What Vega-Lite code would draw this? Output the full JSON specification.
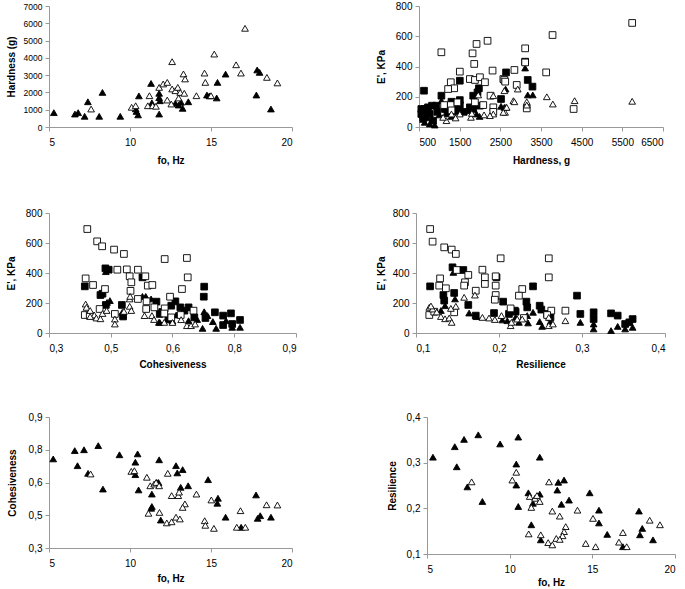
{
"$schema":"https://vega.github.io/schema/vega-lite/v6.json",
"background":"white",
"padding":{"left":6,"top":1,"right":0,"bottom":0},
"datasets":{
"p1":[
{"x":5.3,"y":830,"m":"ft"},{"x":6.6,"y":750,"m":"ft"},{"x":6.8,"y":830,"m":"ft"},{"x":7.2,"y":620,"m":"ft"},{"x":7.4,"y":1460,"m":"ft"},{"x":8.1,"y":620,"m":"ft"},{"x":8.3,"y":2000,"m":"ft"},{"x":9.4,"y":620,"m":"ft"},{"x":10.35,"y":1050,"m":"ft"},{"x":10.4,"y":900,"m":"ft"},{"x":10.5,"y":700,"m":"ft"},{"x":10.55,"y":1800,"m":"ft"},{"x":11.3,"y":2520,"m":"ft"},{"x":11.35,"y":1400,"m":"ft"},{"x":11.8,"y":750,"m":"ft"},{"x":11.8,"y":1950,"m":"ft"},{"x":11.85,"y":1520,"m":"ft"},{"x":11.8,"y":1700,"m":"ft"},{"x":12.8,"y":1370,"m":"ft"},{"x":13.0,"y":1270,"m":"ft"},{"x":13.15,"y":1430,"m":"ft"},{"x":13.25,"y":1080,"m":"ft"},{"x":13.6,"y":1460,"m":"ft"},{"x":14.75,"y":1850,"m":"ft"},{"x":14.9,"y":1800,"m":"ft"},{"x":15.35,"y":1680,"m":"ft"},{"x":15.4,"y":2580,"m":"ft"},{"x":15.9,"y":3060,"m":"ft"},{"x":17.85,"y":3300,"m":"ft"},{"x":18.0,"y":3160,"m":"ft"},{"x":17.8,"y":1850,"m":"ft"},{"x":18.7,"y":1040,"m":"ft"},
{"x":7.6,"y":1040,"m":"ot"},{"x":10.1,"y":1140,"m":"ot"},{"x":10.35,"y":1230,"m":"ot"},{"x":11.1,"y":1230,"m":"ot"},{"x":11.2,"y":1810,"m":"ot"},{"x":11.4,"y":1230,"m":"ot"},{"x":11.6,"y":1200,"m":"ot"},{"x":11.8,"y":2290,"m":"ot"},{"x":12.05,"y":2490,"m":"ot"},{"x":12.3,"y":2580,"m":"ot"},{"x":12.3,"y":1560,"m":"ot"},{"x":12.55,"y":1330,"m":"ot"},{"x":12.6,"y":3780,"m":"ot"},{"x":12.6,"y":2200,"m":"ot"},{"x":12.8,"y":2100,"m":"ot"},{"x":12.95,"y":2290,"m":"ot"},{"x":13.0,"y":1680,"m":"ot"},{"x":13.1,"y":2000,"m":"ot"},{"x":13.3,"y":3070,"m":"ot"},{"x":13.35,"y":1950,"m":"ot"},{"x":13.4,"y":2780,"m":"ot"},{"x":14.1,"y":1810,"m":"ot"},{"x":14.6,"y":3120,"m":"ot"},{"x":14.65,"y":2580,"m":"ot"},{"x":15.0,"y":1810,"m":"ot"},{"x":15.2,"y":4220,"m":"ot"},{"x":16.55,"y":3600,"m":"ot"},{"x":16.85,"y":3120,"m":"ot"},{"x":17.1,"y":5710,"m":"ot"},{"x":18.45,"y":2870,"m":"ot"},{"x":19.1,"y":2550,"m":"ot"}
],
"p2":[
{"x":623,"y":240,"m":"fs"},{"x":1051,"y":207,"m":"fs"},{"x":1504,"y":306,"m":"fs"},{"x":2640,"y":361,"m":"fs"},{"x":1973,"y":256,"m":"fs"},{"x":1939,"y":229,"m":"fs"},{"x":1833,"y":207,"m":"fs"},{"x":3174,"y":311,"m":"fs"},{"x":3110,"y":432,"m":"fs"},{"x":2517,"y":185,"m":"fs"},{"x":1298,"y":167,"m":"fs"},{"x":1504,"y":178,"m":"fs"},{"x":1504,"y":145,"m":"fs"},{"x":1998,"y":141,"m":"fs"},{"x":557,"y":119,"m":"fs"},{"x":640,"y":119,"m":"fs"},{"x":722,"y":130,"m":"fs"},{"x":821,"y":141,"m":"fs"},{"x":927,"y":141,"m":"fs"},{"x":557,"y":86,"m":"fs"},{"x":640,"y":75,"m":"fs"},{"x":764,"y":86,"m":"fs"},{"x":846,"y":42,"m":"fs"},{"x":1134,"y":119,"m":"fs"},{"x":1463,"y":119,"m":"fs"},{"x":1751,"y":130,"m":"fs"},{"x":1833,"y":119,"m":"fs"},{"x":3290,"y":267,"m":"fs"},{"x":600,"y":60,"m":"fs"},{"x":700,"y":100,"m":"fs"},{"x":950,"y":100,"m":"fs"},{"x":1200,"y":90,"m":"fs"},{"x":1600,"y":100,"m":"fs"},
{"x":1051,"y":174,"m":"ft"},{"x":764,"y":20,"m":"ft"},{"x":640,"y":31,"m":"ft"},{"x":887,"y":13,"m":"ft"},{"x":1463,"y":108,"m":"ft"},{"x":1710,"y":108,"m":"ft"},{"x":1915,"y":86,"m":"ft"},{"x":2630,"y":251,"m":"ft"},{"x":2599,"y":130,"m":"ft"},{"x":3110,"y":390,"m":"ft"},{"x":3174,"y":212,"m":"ft"},{"x":3298,"y":212,"m":"ft"},{"x":2517,"y":137,"m":"ft"},{"x":600,"y":50,"m":"ft"},{"x":700,"y":60,"m":"ft"},{"x":1000,"y":80,"m":"ft"},{"x":1300,"y":70,"m":"ft"},{"x":1990,"y":70,"m":"ft"},{"x":1400,"y":100,"m":"ft"},{"x":1250,"y":110,"m":"ft"},
{"x":1050,"y":494,"m":"os"},{"x":1915,"y":549,"m":"os"},{"x":2186,"y":570,"m":"os"},{"x":1817,"y":487,"m":"os"},{"x":1858,"y":417,"m":"os"},{"x":1504,"y":366,"m":"os"},{"x":2309,"y":373,"m":"os"},{"x":2846,"y":377,"m":"os"},{"x":3110,"y":520,"m":"os"},{"x":1751,"y":317,"m":"os"},{"x":1875,"y":311,"m":"os"},{"x":1998,"y":329,"m":"os"},{"x":2122,"y":296,"m":"os"},{"x":1282,"y":296,"m":"os"},{"x":1364,"y":256,"m":"os"},{"x":1216,"y":251,"m":"os"},{"x":2259,"y":207,"m":"os"},{"x":2574,"y":317,"m":"os"},{"x":2903,"y":278,"m":"os"},{"x":1117,"y":145,"m":"os"},{"x":1282,"y":145,"m":"os"},{"x":1445,"y":163,"m":"os"},{"x":1875,"y":163,"m":"os"},{"x":2080,"y":145,"m":"os"},{"x":2327,"y":130,"m":"os"},{"x":2327,"y":100,"m":"os"},{"x":5742,"y":688,"m":"os"},{"x":3784,"y":608,"m":"os"},{"x":3110,"y":427,"m":"os"},{"x":3627,"y":361,"m":"os"},{"x":2599,"y":311,"m":"os"},{"x":3150,"y":123,"m":"os"},{"x":4302,"y":119,"m":"os"},{"x":1300,"y":110,"m":"os"},{"x":2620,"y":300,"m":"os"},
{"x":2928,"y":251,"m":"ot"},{"x":2821,"y":174,"m":"ot"},{"x":2640,"y":130,"m":"ot"},{"x":2616,"y":97,"m":"ot"},{"x":2327,"y":207,"m":"ot"},{"x":2327,"y":86,"m":"ot"},{"x":2245,"y":75,"m":"ot"},{"x":1957,"y":212,"m":"ot"},{"x":1777,"y":64,"m":"ot"},{"x":1504,"y":86,"m":"ot"},{"x":1175,"y":42,"m":"ot"},{"x":1093,"y":64,"m":"ot"},{"x":1298,"y":86,"m":"ot"},{"x":2599,"y":240,"m":"ot"},{"x":2846,"y":167,"m":"ot"},{"x":3150,"y":167,"m":"ot"},{"x":3150,"y":145,"m":"ot"},{"x":3643,"y":200,"m":"ot"},{"x":3791,"y":152,"m":"ot"},{"x":4327,"y":174,"m":"ot"},{"x":5742,"y":170,"m":"ot"},{"x":2656,"y":130,"m":"ot"},{"x":2574,"y":97,"m":"ot"},{"x":1800,"y":90,"m":"ot"},{"x":2100,"y":80,"m":"ot"},{"x":1400,"y":60,"m":"ot"}
],
"p3":[
{"x":0.387,"y":311,"m":"fs"},{"x":0.437,"y":431,"m":"fs"},{"x":0.445,"y":422,"m":"fs"},{"x":0.425,"y":253,"m":"fs"},{"x":0.43,"y":262,"m":"fs"},{"x":0.438,"y":187,"m":"fs"},{"x":0.477,"y":187,"m":"fs"},{"x":0.527,"y":371,"m":"fs"},{"x":0.561,"y":209,"m":"fs"},{"x":0.569,"y":127,"m":"fs"},{"x":0.677,"y":309,"m":"fs"},{"x":0.676,"y":242,"m":"fs"},{"x":0.607,"y":211,"m":"fs"},{"x":0.597,"y":182,"m":"fs"},{"x":0.619,"y":171,"m":"fs"},{"x":0.639,"y":171,"m":"fs"},{"x":0.629,"y":149,"m":"fs"},{"x":0.703,"y":138,"m":"fs"},{"x":0.723,"y":116,"m":"fs"},{"x":0.742,"y":131,"m":"fs"},{"x":0.764,"y":87,"m":"fs"},{"x":0.745,"y":60,"m":"fs"},{"x":0.653,"y":104,"m":"fs"},{"x":0.723,"y":53,"m":"fs"},{"x":0.575,"y":140,"m":"fs"},{"x":0.48,"y":110,"m":"fs"},{"x":0.59,"y":90,"m":"fs"},{"x":0.68,"y":100,"m":"fs"},
{"x":0.438,"y":409,"m":"ft"},{"x":0.441,"y":204,"m":"ft"},{"x":0.448,"y":216,"m":"ft"},{"x":0.478,"y":138,"m":"ft"},{"x":0.527,"y":244,"m":"ft"},{"x":0.535,"y":244,"m":"ft"},{"x":0.567,"y":71,"m":"ft"},{"x":0.677,"y":142,"m":"ft"},{"x":0.685,"y":116,"m":"ft"},{"x":0.698,"y":76,"m":"ft"},{"x":0.706,"y":31,"m":"ft"},{"x":0.73,"y":82,"m":"ft"},{"x":0.745,"y":38,"m":"ft"},{"x":0.764,"y":38,"m":"ft"},{"x":0.673,"y":31,"m":"ft"},{"x":0.609,"y":120,"m":"ft"},{"x":0.569,"y":71,"m":"ft"},{"x":0.639,"y":82,"m":"ft"},{"x":0.548,"y":227,"m":"ft"},{"x":0.48,"y":120,"m":"ft"},{"x":0.6,"y":80,"m":"ft"},{"x":0.66,"y":90,"m":"ft"},
{"x":0.393,"y":693,"m":"os"},{"x":0.417,"y":611,"m":"os"},{"x":0.429,"y":578,"m":"os"},{"x":0.458,"y":556,"m":"os"},{"x":0.482,"y":527,"m":"os"},{"x":0.581,"y":493,"m":"os"},{"x":0.389,"y":364,"m":"os"},{"x":0.466,"y":422,"m":"os"},{"x":0.489,"y":424,"m":"os"},{"x":0.516,"y":422,"m":"os"},{"x":0.407,"y":320,"m":"os"},{"x":0.436,"y":293,"m":"os"},{"x":0.496,"y":378,"m":"os"},{"x":0.5,"y":338,"m":"os"},{"x":0.534,"y":378,"m":"os"},{"x":0.54,"y":316,"m":"os"},{"x":0.551,"y":320,"m":"os"},{"x":0.498,"y":281,"m":"os"},{"x":0.516,"y":227,"m":"os"},{"x":0.537,"y":211,"m":"os"},{"x":0.387,"y":120,"m":"os"},{"x":0.399,"y":116,"m":"os"},{"x":0.46,"y":127,"m":"os"},{"x":0.536,"y":160,"m":"os"},{"x":0.556,"y":171,"m":"os"},{"x":0.581,"y":164,"m":"os"},{"x":0.423,"y":160,"m":"os"},{"x":0.635,"y":500,"m":"os"},{"x":0.637,"y":371,"m":"os"},{"x":0.623,"y":293,"m":"os"},{"x":0.594,"y":242,"m":"os"},{"x":0.651,"y":149,"m":"os"},{"x":0.597,"y":104,"m":"os"},{"x":0.58,"y":130,"m":"os"},{"x":0.62,"y":120,"m":"os"},
{"x":0.389,"y":193,"m":"ot"},{"x":0.391,"y":171,"m":"ot"},{"x":0.40,"y":150,"m":"ot"},{"x":0.41,"y":120,"m":"ot"},{"x":0.40,"y":110,"m":"ot"},{"x":0.415,"y":100,"m":"ot"},{"x":0.425,"y":95,"m":"ot"},{"x":0.43,"y":130,"m":"ot"},{"x":0.46,"y":93,"m":"ot"},{"x":0.496,"y":227,"m":"ot"},{"x":0.497,"y":244,"m":"ot"},{"x":0.496,"y":178,"m":"ot"},{"x":0.46,"y":60,"m":"ot"},{"x":0.482,"y":144,"m":"ot"},{"x":0.532,"y":116,"m":"ot"},{"x":0.55,"y":116,"m":"ot"},{"x":0.58,"y":71,"m":"ot"},{"x":0.621,"y":89,"m":"ot"},{"x":0.635,"y":49,"m":"ot"},{"x":0.645,"y":49,"m":"ot"},{"x":0.60,"y":70,"m":"ot"},{"x":0.655,"y":60,"m":"ot"},{"x":0.50,"y":150,"m":"ot"},{"x":0.44,"y":150,"m":"ot"},{"x":0.555,"y":90,"m":"ot"}
],
"p4":[
{"x":0.117,"y":311,"m":"fs"},{"x":0.144,"y":438,"m":"fs"},{"x":0.157,"y":420,"m":"fs"},{"x":0.133,"y":253,"m":"fs"},{"x":0.146,"y":267,"m":"fs"},{"x":0.134,"y":216,"m":"fs"},{"x":0.163,"y":187,"m":"fs"},{"x":0.197,"y":371,"m":"fs"},{"x":0.205,"y":209,"m":"fs"},{"x":0.194,"y":133,"m":"fs"},{"x":0.172,"y":116,"m":"fs"},{"x":0.22,"y":142,"m":"fs"},{"x":0.241,"y":311,"m":"fs"},{"x":0.233,"y":209,"m":"fs"},{"x":0.234,"y":171,"m":"fs"},{"x":0.249,"y":182,"m":"fs"},{"x":0.251,"y":156,"m":"fs"},{"x":0.219,"y":149,"m":"fs"},{"x":0.212,"y":127,"m":"fs"},{"x":0.258,"y":127,"m":"fs"},{"x":0.262,"y":104,"m":"fs"},{"x":0.294,"y":249,"m":"fs"},{"x":0.298,"y":127,"m":"fs"},{"x":0.314,"y":138,"m":"fs"},{"x":0.314,"y":93,"m":"fs"},{"x":0.335,"y":131,"m":"fs"},{"x":0.343,"y":116,"m":"fs"},{"x":0.361,"y":93,"m":"fs"},{"x":0.357,"y":71,"m":"fs"},{"x":0.352,"y":60,"m":"fs"},
{"x":0.145,"y":404,"m":"ft"},{"x":0.147,"y":227,"m":"ft"},{"x":0.135,"y":182,"m":"ft"},{"x":0.164,"y":133,"m":"ft"},{"x":0.173,"y":109,"m":"ft"},{"x":0.196,"y":244,"m":"ft"},{"x":0.204,"y":87,"m":"ft"},{"x":0.21,"y":82,"m":"ft"},{"x":0.224,"y":71,"m":"ft"},{"x":0.241,"y":138,"m":"ft"},{"x":0.234,"y":116,"m":"ft"},{"x":0.22,"y":104,"m":"ft"},{"x":0.235,"y":67,"m":"ft"},{"x":0.249,"y":76,"m":"ft"},{"x":0.252,"y":44,"m":"ft"},{"x":0.262,"y":76,"m":"ft"},{"x":0.298,"y":71,"m":"ft"},{"x":0.314,"y":60,"m":"ft"},{"x":0.314,"y":27,"m":"ft"},{"x":0.335,"y":16,"m":"ft"},{"x":0.343,"y":44,"m":"ft"},{"x":0.352,"y":27,"m":"ft"},{"x":0.361,"y":38,"m":"ft"},{"x":0.13,"y":150,"m":"ft"},
{"x":0.117,"y":693,"m":"os"},{"x":0.12,"y":609,"m":"os"},{"x":0.134,"y":571,"m":"os"},{"x":0.143,"y":556,"m":"os"},{"x":0.148,"y":527,"m":"os"},{"x":0.202,"y":498,"m":"os"},{"x":0.129,"y":364,"m":"os"},{"x":0.128,"y":316,"m":"os"},{"x":0.136,"y":298,"m":"os"},{"x":0.149,"y":420,"m":"os"},{"x":0.163,"y":387,"m":"os"},{"x":0.159,"y":338,"m":"os"},{"x":0.158,"y":316,"m":"os"},{"x":0.172,"y":282,"m":"os"},{"x":0.18,"y":422,"m":"os"},{"x":0.183,"y":371,"m":"os"},{"x":0.183,"y":327,"m":"os"},{"x":0.196,"y":378,"m":"os"},{"x":0.196,"y":316,"m":"os"},{"x":0.196,"y":253,"m":"os"},{"x":0.195,"y":222,"m":"os"},{"x":0.228,"y":293,"m":"os"},{"x":0.224,"y":249,"m":"os"},{"x":0.214,"y":164,"m":"os"},{"x":0.116,"y":120,"m":"os"},{"x":0.122,"y":142,"m":"os"},{"x":0.146,"y":138,"m":"os"},{"x":0.26,"y":498,"m":"os"},{"x":0.26,"y":371,"m":"os"},{"x":0.263,"y":149,"m":"os"},{"x":0.28,"y":149,"m":"os"},{"x":0.23,"y":100,"m":"os"},{"x":0.258,"y":120,"m":"os"},
{"x":0.116,"y":171,"m":"ot"},{"x":0.12,"y":160,"m":"ot"},{"x":0.125,"y":140,"m":"ot"},{"x":0.13,"y":110,"m":"ot"},{"x":0.135,"y":95,"m":"ot"},{"x":0.14,"y":100,"m":"ot"},{"x":0.158,"y":238,"m":"ot"},{"x":0.171,"y":253,"m":"ot"},{"x":0.148,"y":178,"m":"ot"},{"x":0.142,"y":164,"m":"ot"},{"x":0.143,"y":71,"m":"ot"},{"x":0.18,"y":104,"m":"ot"},{"x":0.188,"y":100,"m":"ot"},{"x":0.195,"y":90,"m":"ot"},{"x":0.203,"y":116,"m":"ot"},{"x":0.214,"y":49,"m":"ot"},{"x":0.215,"y":71,"m":"ot"},{"x":0.222,"y":93,"m":"ot"},{"x":0.228,"y":93,"m":"ot"},{"x":0.26,"y":104,"m":"ot"},{"x":0.26,"y":49,"m":"ot"},{"x":0.265,"y":60,"m":"ot"},{"x":0.28,"y":82,"m":"ot"},{"x":0.118,"y":180,"m":"ot"}
],
"p5":[
{"x":5.26,"y":0.708,"m":"ft"},{"x":6.59,"y":0.746,"m":"ft"},{"x":6.76,"y":0.677,"m":"ft"},{"x":7.16,"y":0.75,"m":"ft"},{"x":7.41,"y":0.642,"m":"ft"},{"x":8.04,"y":0.769,"m":"ft"},{"x":8.33,"y":0.57,"m":"ft"},{"x":9.35,"y":0.727,"m":"ft"},{"x":10.33,"y":0.693,"m":"ft"},{"x":10.47,"y":0.731,"m":"ft"},{"x":10.33,"y":0.636,"m":"ft"},{"x":10.53,"y":0.566,"m":"ft"},{"x":11.35,"y":0.547,"m":"ft"},{"x":11.31,"y":0.482,"m":"ft"},{"x":11.35,"y":0.49,"m":"ft"},{"x":11.9,"y":0.428,"m":"ft"},{"x":11.8,"y":0.704,"m":"ft"},{"x":11.76,"y":0.6,"m":"ft"},{"x":11.65,"y":0.6,"m":"ft"},{"x":12.84,"y":0.677,"m":"ft"},{"x":12.92,"y":0.644,"m":"ft"},{"x":13.25,"y":0.659,"m":"ft"},{"x":13.13,"y":0.578,"m":"ft"},{"x":13.59,"y":0.585,"m":"ft"},{"x":14.82,"y":0.613,"m":"ft"},{"x":15.43,"y":0.528,"m":"ft"},{"x":15.39,"y":0.505,"m":"ft"},{"x":15.9,"y":0.441,"m":"ft"},{"x":16.86,"y":0.395,"m":"ft"},{"x":17.78,"y":0.543,"m":"ft"},{"x":18.04,"y":0.448,"m":"ft"},{"x":17.88,"y":0.436,"m":"ft"},{"x":18.7,"y":0.441,"m":"ft"},
{"x":7.57,"y":0.639,"m":"ot"},{"x":10.08,"y":0.651,"m":"ot"},{"x":10.27,"y":0.654,"m":"ot"},{"x":11.04,"y":0.624,"m":"ot"},{"x":11.25,"y":0.585,"m":"ot"},{"x":11.49,"y":0.593,"m":"ot"},{"x":11.61,"y":0.6,"m":"ot"},{"x":11.8,"y":0.585,"m":"ot"},{"x":11.14,"y":0.459,"m":"ot"},{"x":11.82,"y":0.463,"m":"ot"},{"x":12.27,"y":0.415,"m":"ot"},{"x":12.33,"y":0.642,"m":"ot"},{"x":12.57,"y":0.54,"m":"ot"},{"x":12.98,"y":0.54,"m":"ot"},{"x":13.03,"y":0.556,"m":"ot"},{"x":13.39,"y":0.502,"m":"ot"},{"x":13.25,"y":0.486,"m":"ot"},{"x":14.1,"y":0.547,"m":"ot"},{"x":15.02,"y":0.52,"m":"ot"},{"x":12.57,"y":0.42,"m":"ot"},{"x":12.84,"y":0.441,"m":"ot"},{"x":13.08,"y":0.433,"m":"ot"},{"x":14.61,"y":0.425,"m":"ot"},{"x":14.65,"y":0.404,"m":"ot"},{"x":15.18,"y":0.39,"m":"ot"},{"x":16.59,"y":0.395,"m":"ot"},{"x":17.12,"y":0.395,"m":"ot"},{"x":16.82,"y":0.471,"m":"ot"},{"x":18.43,"y":0.498,"m":"ot"},{"x":19.1,"y":0.497,"m":"ot"}
],
"p6":[
{"x":5.36,"y":0.312,"m":"ft"},{"x":6.68,"y":0.335,"m":"ft"},{"x":6.8,"y":0.291,"m":"ft"},{"x":7.24,"y":0.351,"m":"ft"},{"x":7.44,"y":0.247,"m":"ft"},{"x":8.1,"y":0.361,"m":"ft"},{"x":8.35,"y":0.215,"m":"ft"},{"x":9.42,"y":0.341,"m":"ft"},{"x":10.4,"y":0.297,"m":"ft"},{"x":10.4,"y":0.251,"m":"ft"},{"x":10.52,"y":0.356,"m":"ft"},{"x":10.52,"y":0.204,"m":"ft"},{"x":11.82,"y":0.312,"m":"ft"},{"x":11.13,"y":0.234,"m":"ft"},{"x":11.82,"y":0.231,"m":"ft"},{"x":11.41,"y":0.211,"m":"ft"},{"x":11.31,"y":0.164,"m":"ft"},{"x":11.88,"y":0.131,"m":"ft"},{"x":12.88,"y":0.24,"m":"ft"},{"x":12.94,"y":0.257,"m":"ft"},{"x":13.29,"y":0.262,"m":"ft"},{"x":13.13,"y":0.209,"m":"ft"},{"x":13.59,"y":0.218,"m":"ft"},{"x":14.84,"y":0.234,"m":"ft"},{"x":15.4,"y":0.196,"m":"ft"},{"x":15.4,"y":0.168,"m":"ft"},{"x":15.9,"y":0.143,"m":"ft"},{"x":16.85,"y":0.116,"m":"ft"},{"x":17.82,"y":0.194,"m":"ft"},{"x":18.02,"y":0.156,"m":"ft"},{"x":17.88,"y":0.142,"m":"ft"},{"x":18.67,"y":0.131,"m":"ft"},
{"x":7.7,"y":0.258,"m":"ot"},{"x":10.16,"y":0.262,"m":"ot"},{"x":10.4,"y":0.279,"m":"ot"},{"x":12.38,"y":0.258,"m":"ot"},{"x":11.21,"y":0.226,"m":"ot"},{"x":11.53,"y":0.222,"m":"ot"},{"x":11.65,"y":0.228,"m":"ot"},{"x":11.82,"y":0.215,"m":"ot"},{"x":11.31,"y":0.202,"m":"ot"},{"x":12.58,"y":0.194,"m":"ot"},{"x":13.03,"y":0.183,"m":"ot"},{"x":14.1,"y":0.196,"m":"ot"},{"x":15.04,"y":0.178,"m":"ot"},{"x":13.39,"y":0.16,"m":"ot"},{"x":13.29,"y":0.149,"m":"ot"},{"x":13.2,"y":0.14,"m":"ot"},{"x":12.82,"y":0.134,"m":"ot"},{"x":13.03,"y":0.132,"m":"ot"},{"x":12.33,"y":0.125,"m":"ot"},{"x":12.58,"y":0.12,"m":"ot"},{"x":11.15,"y":0.144,"m":"ot"},{"x":11.88,"y":0.142,"m":"ot"},{"x":14.6,"y":0.123,"m":"ot"},{"x":15.2,"y":0.116,"m":"ot"},{"x":16.61,"y":0.126,"m":"ot"},{"x":16.85,"y":0.147,"m":"ot"},{"x":17.08,"y":0.116,"m":"ot"},{"x":18.47,"y":0.174,"m":"ot"},{"x":19.09,"y":0.164,"m":"ot"}
]
},
"vconcat":[
{"hconcat":[
{"width":243,"height":121,"data":{"name":"p1"},
"mark":{"type":"point","filled":true,"stroke":"black","strokeWidth":0.9,"opacity":1},
"encoding":{
"x":{"field":"x","type":"quantitative","scale":{"domain":[5,20],"nice":false,"zero":false},"axis":{"values":[5,10,15,20],"title":"fo, Hz","titlePadding":8}},
"y":{"field":"y","type":"quantitative","scale":{"domain":[0,7000],"nice":false},"axis":{"values":[0,1000,2000,3000,4000,5000,6000,7000],"format":"d","title":"Hardness (g)","titlePadding":3,"labelFontSize":8.5}},
"shape":{"field":"m","type":"nominal","scale":{"domain":["ft","ot","fs","os"],"range":["triangle-up","triangle-up","square","square"]},"legend":null},
"fill":{"field":"m","type":"nominal","scale":{"domain":["ft","ot","fs","os"],"range":["black","white","black","white"]},"legend":null},
"size":{"field":"m","type":"ordinal","scale":{"domain":["ft","ot","fs","os"],"range":[45,45,34,34]},"legend":null}}},
{"width":244,"height":121,"data":{"name":"p2"},
"mark":{"type":"point","filled":true,"stroke":"black","strokeWidth":0.9,"opacity":1},
"encoding":{
"x":{"field":"x","type":"quantitative","scale":{"domain":[500,6500],"nice":false,"zero":false},"axis":{"values":[500,1500,2500,3500,4500,5500,6500],"format":"d","title":"Hardness, g","titlePadding":8}},
"y":{"field":"y","type":"quantitative","scale":{"domain":[0,800],"nice":false},"axis":{"values":[0,200,400,600,800],"format":"d","title":"E', KPa","titlePadding":3}},
"shape":{"field":"m","type":"nominal","scale":{"domain":["ft","ot","fs","os"],"range":["triangle-up","triangle-up","square","square"]},"legend":null},
"fill":{"field":"m","type":"nominal","scale":{"domain":["ft","ot","fs","os"],"range":["black","white","black","white"]},"legend":null},
"size":{"field":"m","type":"ordinal","scale":{"domain":["ft","ot","fs","os"],"range":[45,45,34,34]},"legend":null}}}
],"spacing":127,"bounds":"flush"},
{"hconcat":[
{"width":247,"height":120,"data":{"name":"p3"},
"mark":{"type":"point","filled":true,"stroke":"black","strokeWidth":0.9,"opacity":1},
"encoding":{
"x":{"field":"x","type":"quantitative","scale":{"domain":[0.3,0.9],"nice":false,"zero":false},"axis":{"values":[0.3,0.45,0.6,0.75,0.9],"labelExpr":"replace(format(datum.value,'.1f'),'.',',')","title":"Cohesiveness","titlePadding":6}},
"y":{"field":"y","type":"quantitative","scale":{"domain":[0,800],"nice":false},"axis":{"values":[0,200,400,600,800],"format":"d","title":"E', KPa","titlePadding":3}},
"shape":{"field":"m","type":"nominal","scale":{"domain":["ft","ot","fs","os"],"range":["triangle-up","triangle-up","square","square"]},"legend":null},
"fill":{"field":"m","type":"nominal","scale":{"domain":["ft","ot","fs","os"],"range":["black","white","black","white"]},"legend":null},
"size":{"field":"m","type":"ordinal","scale":{"domain":["ft","ot","fs","os"],"range":[45,45,34,34]},"legend":null}}},
{"width":249,"height":120,"data":{"name":"p4"},
"mark":{"type":"point","filled":true,"stroke":"black","strokeWidth":0.9,"opacity":1},
"encoding":{
"x":{"field":"x","type":"quantitative","scale":{"domain":[0.1,0.4],"nice":false,"zero":false},"axis":{"values":[0.1,0.2,0.3,0.4],"labelExpr":"replace(format(datum.value,'.1f'),'.',',')","title":"Resilience","titlePadding":6}},
"y":{"field":"y","type":"quantitative","scale":{"domain":[0,800],"nice":false},"axis":{"values":[0,200,400,600,800],"format":"d","title":"E', KPa","titlePadding":0}},
"shape":{"field":"m","type":"nominal","scale":{"domain":["ft","ot","fs","os"],"range":["triangle-up","triangle-up","square","square"]},"legend":null},
"fill":{"field":"m","type":"nominal","scale":{"domain":["ft","ot","fs","os"],"range":["black","white","black","white"]},"legend":null},
"size":{"field":"m","type":"ordinal","scale":{"domain":["ft","ot","fs","os"],"range":[45,45,34,34]},"legend":null}}}
],"spacing":120,"bounds":"flush"},
{"hconcat":[
{"width":243,"height":131,"data":{"name":"p5"},
"mark":{"type":"point","filled":true,"stroke":"black","strokeWidth":0.9,"opacity":1},
"encoding":{
"x":{"field":"x","type":"quantitative","scale":{"domain":[5,20],"nice":false,"zero":false},"axis":{"values":[5,10,15,20],"title":"fo, Hz","titlePadding":5}},
"y":{"field":"y","type":"quantitative","scale":{"domain":[0.3,0.9],"nice":false,"zero":false},"axis":{"values":[0.3,0.45,0.6,0.75,0.9],"labelExpr":"replace(format(datum.value,'.1f'),'.',',')","title":"Cohesiveness","titlePadding":2}},
"shape":{"field":"m","type":"nominal","scale":{"domain":["ft","ot","fs","os"],"range":["triangle-up","triangle-up","square","square"]},"legend":null},
"fill":{"field":"m","type":"nominal","scale":{"domain":["ft","ot","fs","os"],"range":["black","white","black","white"]},"legend":null},
"size":{"field":"m","type":"ordinal","scale":{"domain":["ft","ot","fs","os"],"range":[45,45,34,34]},"legend":null}}},
{"width":248,"height":137,"data":{"name":"p6"},
"mark":{"type":"point","filled":true,"stroke":"black","strokeWidth":0.9,"opacity":1},
"encoding":{
"x":{"field":"x","type":"quantitative","scale":{"domain":[5,20],"nice":false,"zero":false},"axis":{"values":[5,10,15,20],"title":"fo, Hz","titlePadding":3}},
"y":{"field":"y","type":"quantitative","scale":{"domain":[0.1,0.4],"nice":false,"zero":false},"axis":{"values":[0.1,0.2,0.3,0.4],"labelExpr":"replace(format(datum.value,'.1f'),'.',',')","title":"Resilience","titlePadding":0}},
"shape":{"field":"m","type":"nominal","scale":{"domain":["ft","ot","fs","os"],"range":["triangle-up","triangle-up","square","square"]},"legend":null},
"fill":{"field":"m","type":"nominal","scale":{"domain":["ft","ot","fs","os"],"range":["black","white","black","white"]},"legend":null},
"size":{"field":"m","type":"ordinal","scale":{"domain":["ft","ot","fs","os"],"range":[45,45,34,34]},"legend":null}}}
],"spacing":135,"bounds":"flush"}
],
"spacing":43,
"config":{
"font":"Liberation Sans",
"view":{"stroke":null},
"axis":{"grid":false,"domainColor":"#999999","tickColor":"#999999","tickSize":4,"labelFont":"Liberation Sans","labelFontSize":10,"labelColor":"#000000","titleFont":"Liberation Sans","titleFontSize":10,"titleFontWeight":"bold","titleColor":"#000000"},
"axisX":{"labelPadding":6},
"axisY":{"labelPadding":3,"minExtent":30,"maxExtent":30}
}
}
